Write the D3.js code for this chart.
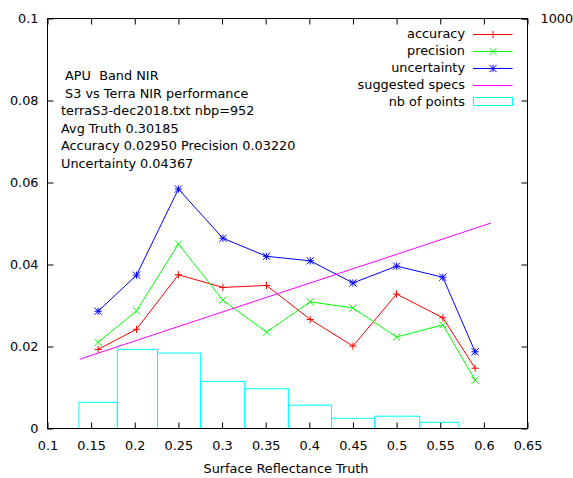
<!DOCTYPE html>
<html>
<head>
<meta charset="utf-8">
<script src="https://cdn.jsdelivr.net/npm/d3@7"></script>
<style>
  html, body { margin: 0; padding: 0; background: #fff; }
  svg text { font-family: "DejaVu Sans", sans-serif; font-size: 12.85px; fill: #000; white-space: pre; }
</style>
</head>
<body>
<svg id="chart" width="573" height="478"></svg>
<script>
// Mean truth reflectance per bin and the statistics computed in each bin
const truthX      = [0.158, 0.202, 0.250, 0.301, 0.351, 0.401, 0.450, 0.500, 0.553, 0.590];
const accuracy    = [0.0193, 0.0242, 0.0375, 0.0344, 0.0349, 0.0266, 0.0201, 0.0328, 0.0270, 0.0147];
const precision   = [0.0210, 0.0287, 0.0450, 0.0313, 0.0235, 0.0309, 0.0294, 0.0223, 0.0253, 0.0118];
const uncertainty = [0.0286, 0.0374, 0.0584, 0.0464, 0.0420, 0.0409, 0.0355, 0.0396, 0.0369, 0.0187];
const nbPoints    = [64, 193, 184, 115, 97, 57, 25, 30, 15, 0];

// Suggested specification line (end points)
const specX = [0.137, 0.608];
const specY = [0.0169, 0.0501];

// Axis ticks and labels
const xTicks = [0.1, 0.15, 0.2, 0.25, 0.3, 0.35, 0.4, 0.45, 0.5, 0.55, 0.6, 0.65];
const xTickLabels = ["0.1", "0.15", "0.2", "0.25", "0.3", "0.35", "0.4", "0.45", "0.5", "0.55", "0.6", "0.65"];
const yTicks = [0, 0.02, 0.04, 0.06, 0.08, 0.1];
const yTickLabels = ["0", "0.02", "0.04", "0.06", "0.08", "0.1"];
const y2Ticks = [1000];
const y2TickLabels = ["1000"];

const infoLines = [
  " APU  Band NIR",
  " S3 vs Terra NIR performance",
  "terraS3-dec2018.txt nbp=952",
  "Avg Truth 0.30185",
  "Accuracy 0.02950 Precision 0.03220",
  "Uncertainty 0.04367"
];
const xTitle = "Surface Reflectance Truth";

const series = [
  { name: "accuracy",    values: accuracy,    color: "#ff0000", marker: "plus" },
  { name: "precision",   values: precision,   color: "#00ff00", marker: "cross" },
  { name: "uncertainty", values: uncertainty, color: "#0000ff", marker: "star" }
];

const L = 47.5, R = 527.5, T = 18.5, B = 428.5;
const svg = d3.select("#chart");

const x = d3.scaleLinear().domain([0.1, 0.65]).range([L, R]);
const y = d3.scaleLinear().domain([0, 0.1]).range([B, T]);
const y2 = d3.scaleLinear().domain([0, 1000]).range([B, T]);

const tickLen = 6;

// Bottom axis with inward ticks, and mirrored ticks on top
const xFmt = d => xTickLabels[xTicks.indexOf(d)];
const gx = svg.append("g").attr("transform", `translate(0,${B})`)
  .call(d3.axisBottom(x).tickValues(xTicks).tickFormat(xFmt).tickSizeInner(-tickLen).tickSizeOuter(0).tickPadding(12));
const gxTop = svg.append("g").attr("transform", `translate(0,${T})`)
  .call(d3.axisTop(x).tickValues(xTicks).tickFormat("").tickSizeInner(-tickLen).tickSizeOuter(0));

// Left axis, mirrored ticks on right
const yFmt = d => yTickLabels[yTicks.indexOf(d)];
const gy = svg.append("g").attr("transform", `translate(${L},0)`)
  .call(d3.axisLeft(y).tickValues(yTicks).tickFormat(yFmt).tickSizeInner(-tickLen).tickSizeOuter(0).tickPadding(9));
const gyR = svg.append("g").attr("transform", `translate(${R},0)`)
  .call(d3.axisRight(y).tickValues(yTicks).tickFormat("").tickSizeInner(-tickLen).tickSizeOuter(0));

// Secondary axis for the point counts
const y2Fmt = d => y2TickLabels[y2Ticks.indexOf(d)];
const gy2 = svg.append("g").attr("transform", `translate(${R},0)`)
  .call(d3.axisRight(y2).tickValues(y2Ticks).tickFormat(y2Fmt).tickSizeInner(-tickLen).tickSizeOuter(0).tickPadding(13));

[gx, gxTop, gy, gyR, gy2].forEach(g => {
  g.select(".domain").remove();
  g.selectAll("line").attr("stroke", "#000");
  g.selectAll("text").attr("font-family", null).attr("font-size", null).attr("fill", "#000");
  g.attr("font-family", null).attr("font-size", null);
});
gy.selectAll("text").attr("dy", "0.34em");
gy2.selectAll("text").attr("dy", "0.34em");

// Histogram of number of points (boxes touch halfway between neighbours)
const mids = truthX.slice(1).map((v, i) => (v + truthX[i]) / 2);
const edges = [truthX[0] - (mids[0] - truthX[0]), ...mids,
  truthX[truthX.length - 1] + (truthX[truthX.length - 1] - mids[mids.length - 1])];
const bins = nbPoints.map((n, i) => ({ x0: edges[i], x1: edges[i + 1], n }));

// Specification line
const line = d3.line().x(d => x(d[0])).y(d => y(d[1]));

const plot = svg.append("g");

series.forEach(s => {
  const pts = truthX.map((v, i) => [v, s.values[i]]);
  plot.append("path").attr("d", line(pts)).attr("fill", "none")
    .attr("stroke", s.color).attr("stroke-width", 1);
});

const markerPath = (type, cx, cy, r) => {
  const p = d3.path();
  if (type === "plus" || type === "star") {
    p.moveTo(cx - r, cy); p.lineTo(cx + r, cy);
    p.moveTo(cx, cy - r); p.lineTo(cx, cy + r);
  }
  if (type === "cross" || type === "star") {
    p.moveTo(cx - r, cy - r); p.lineTo(cx + r, cy + r);
    p.moveTo(cx - r, cy + r); p.lineTo(cx + r, cy - r);
  }
  return p.toString();
};

series.forEach(s => {
  plot.append("g").selectAll("path").data(truthX).join("path")
    .attr("d", (v, i) => markerPath(s.marker, x(v), y(s.values[i]), 3.6))
    .attr("fill", "none").attr("stroke", s.color).attr("stroke-width", 1);
});

plot.append("path").attr("d", line(specX.map((v, i) => [v, specY[i]])))
  .attr("fill", "none").attr("stroke", "#ff00ff").attr("stroke-width", 1);

plot.append("g").selectAll("rect").data(bins.filter(b => b.n > 0)).join("rect")
  .attr("x", d => x(d.x0)).attr("width", d => x(d.x1) - x(d.x0))
  .attr("y", d => y2(d.n)).attr("height", d => B - y2(d.n))
  .attr("fill", "none").attr("stroke", "#00ffff").attr("stroke-width", 1);

// Plot border
svg.append("rect").attr("x", L).attr("y", T).attr("width", R - L).attr("height", B - T)
  .attr("fill", "none").attr("stroke", "#000").attr("stroke-width", 1);

// Info text block
const info = svg.append("g");
infoLines.forEach((t, i) => {
  info.append("text").attr("x", 61).attr("y", 80 + i * 17.5).text(t);
});

// Legend
const legendItems = [
  ...series.map(s => ({ name: s.name, color: s.color, type: "line", marker: s.marker })),
  { name: "suggested specs", color: "#ff00ff", type: "line", marker: null },
  { name: "nb of points", color: "#00ffff", type: "box", marker: null }
];
const lg = svg.append("g");
legendItems.forEach((it, i) => {
  const cy = 33.5 + i * 17.1;
  lg.append("text").attr("x", 465).attr("y", cy).attr("dy", "0.34em")
    .attr("text-anchor", "end").text(it.name);
  if (it.type === "line") {
    lg.append("line").attr("x1", 473).attr("x2", 512.5).attr("y1", Math.round(cy) + 0.5).attr("y2", Math.round(cy) + 0.5)
      .attr("stroke", it.color);
    if (it.marker) {
      lg.append("path").attr("d", markerPath(it.marker, 493, Math.round(cy) + 0.5, 3.6))
        .attr("fill", "none").attr("stroke", it.color);
    }
  } else {
    lg.append("rect").attr("x", 473.5).attr("y", Math.round(cy) - 4.5).attr("width", 39).attr("height", 8)
      .attr("fill", "none").attr("stroke", it.color);
  }
});

// Axis title
svg.append("text").attr("x", 286).attr("y", 473).attr("text-anchor", "middle").text(xTitle);
</script>
</body>
</html>
